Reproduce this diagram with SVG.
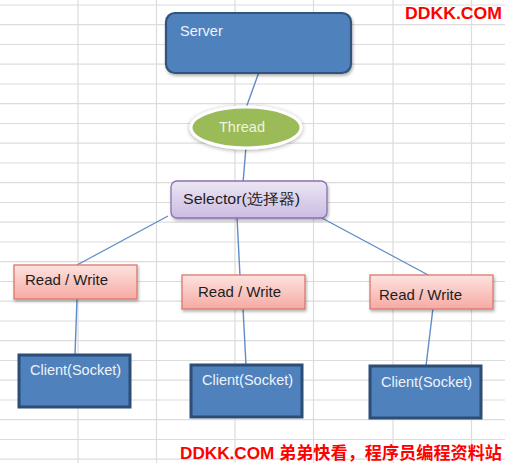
<svg xmlns="http://www.w3.org/2000/svg" width="505" height="463" viewBox="0 0 505 463">
  <style>
    .grid line { stroke: #dcdcdc; stroke-width: 1.2; }
    .conn line { stroke: #5f8cc6; stroke-width: 1.4; fill: none; }
    .lbl { font-family: "Liberation Sans", Arial, sans-serif; }
    .light { fill: #eef3fa; }
    .dark { fill: #1e1e1e; }
    .client { fill: #4f81bd; stroke: #2c4d75; stroke-width: 3; }
    .rw { fill: url(#gRW); stroke: #d9796f; stroke-width: 1.3; }
    .wm { font-family: "Liberation Sans", Arial, "Noto Sans CJK SC", sans-serif; font-weight: bold; font-size: 17px; fill: #ff0000; }
  </style>
  <defs>
    <linearGradient id="gRW" x1="0" y1="0" x2="0" y2="1">
      <stop offset="0" stop-color="#fde3df"/>
      <stop offset="1" stop-color="#f6aaa3"/>
    </linearGradient>
    <linearGradient id="gSel" x1="0" y1="0" x2="0" y2="1">
      <stop offset="0" stop-color="#ece6f4"/>
      <stop offset="1" stop-color="#cbbce2"/>
    </linearGradient>
    <filter id="sh" x="-20%" y="-20%" width="140%" height="150%">
      <feDropShadow dx="1" dy="2" stdDeviation="1.5" flood-color="#000" flood-opacity="0.3"/>
    </filter>
    <filter id="glow" x="-20%" y="-30%" width="140%" height="160%">
      <feDropShadow dx="0" dy="1" stdDeviation="2" flood-color="#000" flood-opacity="0.35"/>
    </filter>
  </defs>
  <rect width="505" height="463" fill="#ffffff"/>
  <g class="grid">
    <line x1="78" y1="0" x2="78" y2="463"/>
    <line x1="156.5" y1="0" x2="156.5" y2="463"/>
    <line x1="235" y1="0" x2="235" y2="463"/>
    <line x1="313.5" y1="0" x2="313.5" y2="463"/>
    <line x1="393" y1="0" x2="393" y2="463"/>
    <line x1="471.5" y1="0" x2="471.5" y2="463"/>
    <line x1="0" y1="5" x2="505" y2="5"/>
    <line x1="0" y1="24.7" x2="505" y2="24.7"/>
    <line x1="0" y1="44.5" x2="505" y2="44.5"/>
    <line x1="0" y1="64.2" x2="505" y2="64.2"/>
    <line x1="0" y1="84" x2="505" y2="84"/>
    <line x1="0" y1="103.7" x2="505" y2="103.7"/>
    <line x1="0" y1="123.5" x2="505" y2="123.5"/>
    <line x1="0" y1="143.2" x2="505" y2="143.2"/>
    <line x1="0" y1="163" x2="505" y2="163"/>
    <line x1="0" y1="182.7" x2="505" y2="182.7"/>
    <line x1="0" y1="202.5" x2="505" y2="202.5"/>
    <line x1="0" y1="222.2" x2="505" y2="222.2"/>
    <line x1="0" y1="242" x2="505" y2="242"/>
    <line x1="0" y1="261.7" x2="505" y2="261.7"/>
    <line x1="0" y1="281.5" x2="505" y2="281.5"/>
    <line x1="0" y1="301.2" x2="505" y2="301.2"/>
    <line x1="0" y1="321" x2="505" y2="321"/>
    <line x1="0" y1="340.7" x2="505" y2="340.7"/>
    <line x1="0" y1="360.5" x2="505" y2="360.5"/>
    <line x1="0" y1="380.2" x2="505" y2="380.2"/>
    <line x1="0" y1="400" x2="505" y2="400"/>
    <line x1="0" y1="419.7" x2="505" y2="419.7"/>
    <line x1="0" y1="439.5" x2="505" y2="439.5"/>
    <line x1="0" y1="459.2" x2="505" y2="459.2"/>
  </g>
  <g id="connectors" class="conn">
    <line x1="259" y1="72" x2="246" y2="108"/>
    <line x1="246" y1="147" x2="243" y2="183"/>
    <line x1="168" y1="216" x2="77" y2="265"/>
    <line x1="237" y1="217" x2="240" y2="276"/>
    <line x1="320" y1="217" x2="430" y2="276"/>
    <line x1="77" y1="298" x2="75" y2="355"/>
    <line x1="243" y1="308" x2="246" y2="365"/>
    <line x1="433" y1="308" x2="426" y2="366"/>
  </g>
  <g id="server">
    <rect x="166" y="13" width="185" height="60" rx="9" fill="#4f81bd" stroke="#30527c" stroke-width="2.2" filter="url(#sh)"/>
    <text class="lbl light" x="180" y="36" font-size="14.5">Server</text>
  </g>
  <g id="thread">
    <ellipse cx="246" cy="127.5" rx="55" ry="20.5" fill="#9bbb59" stroke="#ffffff" stroke-width="3" filter="url(#glow)"/>
    <text class="lbl" x="242" y="132" font-size="14.5" text-anchor="middle" fill="#eef4e0">Thread</text>
  </g>
  <g id="selector">
    <rect x="171" y="181" width="156" height="37" rx="6" fill="url(#gSel)" stroke="#8a72b0" stroke-width="1.3" filter="url(#sh)"/>
    <text class="lbl dark" x="183" y="204" font-size="15" textLength="117" lengthAdjust="spacingAndGlyphs">Selector(选择器)</text>
  </g>
  <g id="rw1">
    <rect class="rw" x="14" y="265" width="123" height="34" filter="url(#sh)"/>
    <text class="lbl dark" x="25" y="285" font-size="15">Read / Write</text>
  </g>
  <g id="rw2">
    <rect class="rw" x="182" y="275" width="123" height="34" filter="url(#sh)"/>
    <text class="lbl dark" x="198" y="297" font-size="15">Read / Write</text>
  </g>
  <g id="rw3">
    <rect class="rw" x="370" y="275" width="123" height="34" filter="url(#sh)"/>
    <text class="lbl dark" x="379" y="300" font-size="15">Read / Write</text>
  </g>
  <g id="client1">
    <rect class="client" x="19" y="355" width="111" height="52"/>
    <text class="lbl light" x="30" y="375" font-size="14.5">Client(Socket)</text>
  </g>
  <g id="client2">
    <rect class="client" x="191" y="365" width="111" height="52"/>
    <text class="lbl light" x="202" y="385" font-size="14.5">Client(Socket)</text>
  </g>
  <g id="client3">
    <rect class="client" x="370" y="366" width="111" height="52"/>
    <text class="lbl light" x="381" y="387" font-size="14.5">Client(Socket)</text>
  </g>
  <text class="wm" x="405" y="19" textLength="97" lengthAdjust="spacingAndGlyphs">DDKK.COM</text>
  <text class="wm" x="180" y="459" textLength="322" lengthAdjust="spacingAndGlyphs">DDKK.COM 弟弟快看，程序员编程资料站</text>
</svg>
